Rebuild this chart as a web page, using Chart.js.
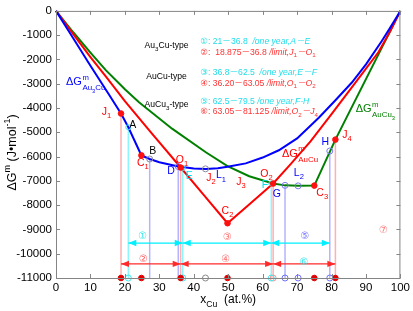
<!DOCTYPE html>
<html><head><meta charset="utf-8">
<script src="https://cdn.jsdelivr.net/npm/chart.js@4.4.1/dist/chart.umd.min.js"></script>
<style>html,body{margin:0;padding:0;background:#fff;}#wrap{width:413px;height:311px;}</style>
</head><body><div id="wrap"><canvas id="c" width="413" height="311"></canvas></div>
<script>
// ---------- data ----------
const xTicks = [0,10,20,30,40,50,60,70,80,90,100];
const yTicks = [0,-1000,-2000,-3000,-4000,-5000,-6000,-7000,-8000,-9000,-10000,-11000];

const au3cuX = [0,5,10,15,18.875,21,24.8,27.2,30,35.5,40,43.5,47,49.8,55.1,60,64.7,70,76.3,81,85.9,90,94.6,97,100];
const au3cuY = [0,-1130,-2260,-3360,-4225,-4790,-5950,-6100,-6230,-6410,-6490,-6510,-6480,-6420,-6280,-6040,-5740,-5250,-4400,-3700,-2950,-2200,-1240,-700,0];

const aucuX = [0,5,10,14.45,20,27.5,36.2,43,49.8,56,63.05,68,73.9,80,86,90,93.6,97,100];
const aucuY = [0,-960,-1900,-2700,-3720,-4990,-6450,-7600,-8745,-7980,-7110,-6330,-5377,-4250,-3130,-2380,-1705,-850,0];

const aucu3X = [0,5,10,14.45,20,24.1,33.7,43.5,49.8,56.1,63.05,66.5,70.3,75,81.125,100];
const aucu3Y = [0,-880,-1720,-2440,-3230,-3760,-4850,-5820,-6390,-6810,-7110,-7185,-7205,-7195,-5300,0];

// key points on curves
const redDotX = [18.875,24.8,36.2,49.8,63.05,75,81.125];
const redDotY = [-4225,-5950,-6450,-8745,-7110,-7195,-5300];
const grayPtX = [27.2,43.4];
const grayPtY = [-6100,-6505];
const bluePtX = [35.5,66.5,70.3,79.5];
const bluePtY = [-6410,-7185,-7205,-5770];
const cyanPtX = [21,36.8,62.5];
const cyanPtY = [-4790,-6470,-7105];

// projections on the composition axis
const axisY = -11000;
const axisRedX = [18.875,24.8,36.2,49.8,75,81.125];
const axisCyanX = [21,36.8,62.5];
const axisGrayX = [43.4];
const axisPinkX = [63.05];
const axisBlueX = [66.5,70.3,79.5];

// ranges (arrows)
const oneYearFrom = [21,36.8,62.5];
const oneYearTo = [36.8,62.5,79.5];
const oneYearLevel = -9560;
const limitFrom = [18.875,36.2,63.05];
const limitTo = [36.2,63.05,81.125];
const limitLevel = -10420;

// drop lines
const pinkDropX = [18.875,36.2,63.05,81.125];
const pinkDropY = [-4225,-6450,-7110,-5300];
const cyanDropX = [21,36.8,62.5];
const cyanDropY = [-4790,-6470,-7105];
const lavDropX = [27.2,35.5,66.5,79.5];
const lavDropY = [-6100,-6410,-7185,-5770];

// ---------- styling ----------
const FONT = "'Liberation Sans', Arial, 'DejaVu Sans', 'Noto Sans CJK SC', sans-serif";
const BLUE='#0000ff', RED='#ff0000', GREEN='#008000';
const CYAN_T='#22dde8', RED_T='#ff3333', BLUE_T='#3333ff';
const PINK_L='#ffb0b0', CYAN_L='#8cf6ff', LAV_L='#b4b4ff';
const CYAN_A='#00f0ff', RED_A='#ff2a2a';

const zip = (xs,ys)=>xs.map((x,i)=>({x,y:ys[i]}));
const datasets = [];
function line(data,color,w,order,extra){datasets.push(Object.assign({type:'line',data,borderColor:color,backgroundColor:color,borderWidth:w,pointRadius:0,tension:0,fill:false,order,clip:false},extra||{}));}
pinkDropX.forEach((x,i)=>line([{x,y:pinkDropY[i]},{x,y:axisY}],PINK_L,1.5,20));
cyanDropX.forEach((x,i)=>line([{x,y:cyanDropY[i]},{x,y:axisY}],CYAN_L,1.5,20));
lavDropX.forEach((x,i)=>line([{x,y:lavDropY[i]},{x,y:axisY}],LAV_L,1.5,20));
oneYearFrom.forEach((x,i)=>line([{x,y:oneYearLevel},{x:oneYearTo[i],y:oneYearLevel}],CYAN_A,1.3,15,{arrow:true}));
limitFrom.forEach((x,i)=>line([{x,y:limitLevel},{x:limitTo[i],y:limitLevel}],RED_A,1.3,15,{arrow:true}));
line(zip(aucu3X,aucu3Y),GREEN,2,8);
line(zip(aucuX,aucuY),RED,2,7);
line(zip(au3cuX,au3cuY),BLUE,2,6);
function pts(data,color,filled,r,order){datasets.push({type:'scatter',data,pointRadius:r,pointBorderWidth:1,borderColor:color,pointBackgroundColor:filled?color:'rgba(255,255,255,0)',backgroundColor:filled?color:'rgba(0,0,0,0)',showLine:false,order,clip:false});}
pts(zip(grayPtX,grayPtY),'#8a8aa0',false,3,3);
pts(zip(bluePtX,bluePtY),'#7a7aee',false,3,3);
pts(zip(cyanPtX,cyanPtY),'#40e8f0',false,2.5,3);
pts(zip(redDotX,redDotY),'#ff1010',true,2.8,2);
pts(axisCyanX.map(x=>({x,y:axisY})),'#40e8f0',false,3,2);
pts(axisGrayX.map(x=>({x,y:axisY})),'#888',false,3,2);
pts(axisPinkX.map(x=>({x,y:axisY})),'#ff9090',false,3,2);
pts(axisBlueX.map(x=>({x,y:axisY})),'#7070ff',false,3,2);
pts(axisRedX.map(x=>({x,y:axisY})),'#e00000',true,2.8,1);

// ---------- annotations (positions in data units) ----------
const sub = t=>({t,m:'sub'}), sup=t=>({t,m:'sup'});
const pointLabels = [
 ['J','1',14.65,-4163,RED],['A','',22.3,-4706,'#000'],['B','',28.1,-5767,'#000'],['C','1',25.2,-6273,RED],
 ['O','1',36.6,-6135,RED],['D','',33.4,-6612,BLUE],['E','',38.7,-6816,'#00e0f0'],['J','2',45.0,-6886,RED],
 ['L','1',47.9,-6776,BLUE],['J','3',53.7,-7049,RED],['O','2',61.1,-6722,RED],['F','',60.7,-7155,'#00e0f0'],
 ['G','',64.1,-7563,BLUE],['C','2',49.8,-8245,RED],['L','2',70.5,-6682,BLUE],['C','3',77.3,-7498,RED],
 ['H','',78.2,-5388,BLUE],['J','4',84.5,-5114,RED]
];
const infoRows = [
 {y:-1265,c:CYAN_T,parts:[{t:'①'},{t:': 21－36.8  '},{t:'/one year,A－E',m:'i'}]},
 {y:-1714,c:RED_T,parts:[{t:'②'},{t:':  18.875－36.8 '},{t:'/limit,J',m:'i'},{t:'1',m:'sub'},{t:'－O',m:'i'},{t:'1',m:'sub'}]},
 {y:-2531,c:CYAN_T,parts:[{t:'③'},{t:': 36.8－62.5  '},{t:'/one year,E－F',m:'i'}]},
 {y:-2980,c:RED_T,parts:[{t:'④'},{t:': 36.20－63.05 '},{t:'/limit,O',m:'i'},{t:'1',m:'sub'},{t:'－O',m:'i'},{t:'2',m:'sub'}]},
 {y:-3755,c:CYAN_T,parts:[{t:'⑤'},{t:': 62.5－79.5 '},{t:'/one year,F-H',m:'i'}]},
 {y:-4163,c:RED_T,parts:[{t:'⑥'},{t:': 63.05－81.125 '},{t:'/limit,O',m:'i'},{t:'2',m:'sub'},{t:'－J',m:'i'},{t:'4',m:'sub'}]}
];
const infoX = 41.9;
const typeRows = [
 {x:32.1,y:-1429,parts:[{t:'Au'},sub('3'),{t:'Cu-type'}]},
 {x:32.1,y:-2694,parts:[{t:'AuCu-type'}]},
 {x:32.1,y:-3878,parts:[{t:'AuCu'},sub('3'),{t:'-type'}]}
];
const circled = [['①',25.2,-9265,'#30e8f0'],['②',25.4,-10218,'#ff6060'],['③',49.8,-9335,'#ff7070'],['④',49.3,-10218,'#ff7070'],
 ['⑤',72.3,-9265,'#7070ff'],['⑥',72.0,-10355,'#30e8f0'],['⑦',95.1,-9033,'#ff8080']];
const curveLabels = [
 {x:2.9,y:-2939,c:BLUE,sub:[{t:'Au'},{t:'3',m:'sub'},{t:'Cu'}]},
 {x:65.6,y:-5878,c:RED,sub:[{t:'AuCu'}]},
 {x:87.0,y:-4041,c:GREEN,sub:[{t:'AuCu'},{t:'3',m:'sub'}]}
];

function rich(ctx,x,y,parts,size,color,align){
  let w=0;
  const segs=parts.map(p=>{const m=p.m||'';const s=(m==='sub'||m==='sup')?size*0.72:size;
    const f=(m==='i'?'italic ':'')+s+'px '+FONT; ctx.font=f; const ww=ctx.measureText(p.t).width; w+=ww;
    return {t:p.t,m,f,ww,c:p.c};});
  let cx=align==='center'?x-w/2:(align==='right'?x-w:x);
  ctx.textBaseline='middle';ctx.textAlign='left';
  segs.forEach(s=>{ctx.font=s.f;ctx.fillStyle=s.c||color;
    const dy=s.m==='sub'?size*0.38:(s.m==='sup'?-size*0.4:0);
    ctx.fillText(s.t,cx,y+dy);cx+=s.ww;});
  return w;
}
function deltaG(ctx,x,y,subParts,color,size){
  ctx.font=size+'px '+FONT;ctx.fillStyle=color;ctx.textBaseline='middle';ctx.textAlign='left';
  ctx.fillText('ΔG',x,y);const w=ctx.measureText('ΔG').width;
  ctx.font=(size*0.7)+'px '+FONT;ctx.fillText('m',x+w+0.5,y-size*0.42);
  rich(ctx,x+w+0.5,y+size*0.55,subParts,size*0.72,color,'left');
}

const decor={id:'decor',
 afterDatasetsDraw(chart){
  const ctx=chart.ctx,xs=chart.scales.x,ys=chart.scales.y,a=chart.chartArea;
  ctx.save();
  // arrowheads
  chart.data.datasets.forEach(ds=>{ if(!ds.arrow) return;
    const y=ys.getPixelForValue(ds.data[0].y);
    const x0=xs.getPixelForValue(ds.data[0].x),x1=xs.getPixelForValue(ds.data[1].x);
    ctx.fillStyle=ds.borderColor;
    [[x0,1],[x1,-1]].forEach(([x,d])=>{ctx.beginPath();ctx.moveTo(x,y);ctx.lineTo(x+d*8,y-3.2);ctx.lineTo(x+d*8,y+3.2);ctx.closePath();ctx.fill();});
  });
  // frame + inward ticks
  ctx.strokeStyle='#858585';ctx.lineWidth=1;
  ctx.strokeRect(a.left+0.5,a.top+0.5,a.right-a.left-1,a.bottom-a.top);
  ctx.beginPath();
  xTicks.forEach(v=>{const p=Math.round(xs.getPixelForValue(v))+0.5;ctx.moveTo(p,a.bottom);ctx.lineTo(p,a.bottom-4);ctx.moveTo(p,a.top);ctx.lineTo(p,a.top+4);});
  yTicks.forEach(v=>{const p=Math.round(ys.getPixelForValue(v))+0.5;ctx.moveTo(a.left,p);ctx.lineTo(a.left+4,p);ctx.moveTo(a.right,p);ctx.lineTo(a.right-4,p);});
  ctx.stroke();
  // point labels
  pointLabels.forEach(([b,s,x,y,c])=>{rich(ctx,xs.getPixelForValue(x),ys.getPixelForValue(y),s?[{t:b},sub(s)]:[{t:b}],10.5,c,'center');});
  // info rows
  infoRows.forEach(r=>rich(ctx,xs.getPixelForValue(infoX),ys.getPixelForValue(r.y),r.parts,8.6,r.c,'left'));
  typeRows.forEach(r=>rich(ctx,xs.getPixelForValue(r.x),ys.getPixelForValue(r.y),r.parts,8.6,'#000','center'));
  circled.forEach(([t,x,y,c])=>rich(ctx,xs.getPixelForValue(x),ys.getPixelForValue(y),[{t}],10,c,'center'));
  curveLabels.forEach(l=>deltaG(ctx,xs.getPixelForValue(l.x),ys.getPixelForValue(l.y),l.sub,l.c,11));
  // axis titles
  rich(ctx,(a.left+a.right)/2,a.bottom+22,[{t:'x'},sub('Cu'),{t:'  (at.%)'}],12,'#000','center');
  ctx.translate(a.left-43,(a.top+a.bottom)/2+8);ctx.rotate(-Math.PI/2);
  rich(ctx,0,0,[{t:'ΔG'},sup('m'),{t:' (J•mol'},sup('-1'),{t:')'}],12.5,'#000','center');
  ctx.restore();
 }};

new Chart(document.getElementById('c'),{
 data:{datasets},
 options:{responsive:false,animation:false,events:[],
  layout:{padding:{top:8,right:11,left:0,bottom:0}},
  plugins:{legend:{display:false},tooltip:{enabled:false}},
  scales:{
   x:{type:'linear',min:0,max:100,afterBuildTicks(s){s.ticks=xTicks.map(v=>({value:v}));},
      ticks:{font:{size:11.5,family:FONT},color:'#000',padding:3,maxRotation:0},
      grid:{display:false,drawTicks:false},border:{display:false},afterFit(s){s.height=33;}},
   y:{type:'linear',min:-11000,max:0,afterBuildTicks(s){s.ticks=yTicks.map(v=>({value:v}));},
      ticks:{font:{size:11.5,family:FONT},color:'#000',padding:4,callback:v=>String(v)},
      grid:{display:false,drawTicks:false},border:{display:false},afterFit(s){s.width=56;}}
  }},
 plugins:[decor]
});
</script></body></html>
